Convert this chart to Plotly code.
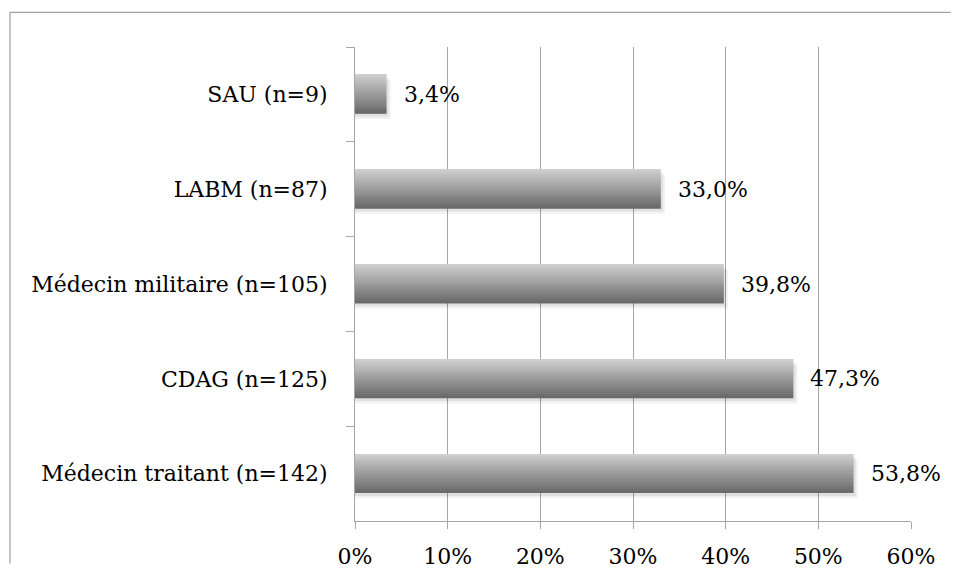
import plotly.graph_objects as go

categories = ["SAU (n=9)", "LABM (n=87)", "Médecin militaire (n=105)", "CDAG (n=125)", "Médecin traitant (n=142)"]
values = [3.4, 33.0, 39.8, 47.3, 53.8]
x_ticks = [0, 10, 20, 30, 40, 50, 60]

FONT = "DejaVu Serif"
FS = 22
BAR_W = 0.41
N_STRIPS = 20
TOP_RGB = (206, 206, 206)
BOT_RGB = (106, 106, 106)

fig = go.Figure()

# soft drop shadow
for dx, dy, col in [(0.45, 0.055, "rgba(0,0,0,0.05)"), (0.25, 0.03, "rgba(0,0,0,0.07)")]:
    fig.add_trace(go.Bar(
        y=categories, x=[v + dx for v in values], orientation="h",
        width=BAR_W, offset=-BAR_W / 2 + dy,
        marker=dict(color=col, line=dict(width=0)),
        hoverinfo="skip", showlegend=False,
    ))

# gradient bars built from horizontal strips
dw = BAR_W / N_STRIPS
for i in range(N_STRIPS):
    t = i / (N_STRIPS - 1)
    rgb = tuple(round(a + (b - a) * t) for a, b in zip(TOP_RGB, BOT_RGB))
    fig.add_trace(go.Bar(
        y=categories, x=values, orientation="h",
        width=dw, offset=-BAR_W / 2 + i * dw,
        marker=dict(color="rgb(%d,%d,%d)" % rgb, line=dict(width=0)),
        hoverinfo="skip" if i else "x+y", showlegend=False,
    ))

for c, v in zip(categories, values):
    fig.add_annotation(
        x=v, y=c, xref="x", yref="y",
        text=("%.1f" % v).replace(".", ",") + "%",
        showarrow=False, xanchor="left", xshift=15,
        font=dict(family=FONT, size=FS, color="#000000"),
    )

# outer chart frame (top and left edges; the rest lies outside the picture)
FX0, FX1, FY0, FY1 = -0.6205, 1.0715, -0.09, 1.0732
fig.add_shape(type="line", xref="paper", yref="paper", x0=FX0, x1=FX1, y0=FY1, y1=FY1,
              line=dict(color="#8c8c8c", width=1), layer="below")
fig.add_shape(type="line", xref="paper", yref="paper", x0=FX0, x1=FX0, y0=FY0, y1=FY1,
              line=dict(color="#8c8c8c", width=1), layer="below")

fig.update_layout(
    width=943, height=561,
    margin=dict(l=347, r=40, t=39, b=48, autoexpand=False),
    paper_bgcolor="white", plot_bgcolor="white",
    barmode="overlay",
    font=dict(family=FONT, size=FS, color="#000000"),
    xaxis=dict(
        range=[0, 60], tickvals=x_ticks, ticktext=["%d%%" % t for t in x_ticks],
        showgrid=True, gridcolor="#a6a6a6", gridwidth=1,
        showline=True, linecolor="#a6a6a6", linewidth=1,
        ticks="outside", ticklen=7, tickcolor="#a6a6a6",
        zeroline=False, ticklabelstandoff=9, automargin=False,
    ),
    yaxis=dict(
        type="category", categoryorder="array", categoryarray=categories,
        autorange="reversed",
        showgrid=False, showline=True, linecolor="#a6a6a6", linewidth=1,
        ticks="outside", ticklen=8, tickcolor="#a6a6a6", tickson="boundaries",
        ticklabelstandoff=22, automargin=False,
    ),
)

fig.write_html("out.html")
